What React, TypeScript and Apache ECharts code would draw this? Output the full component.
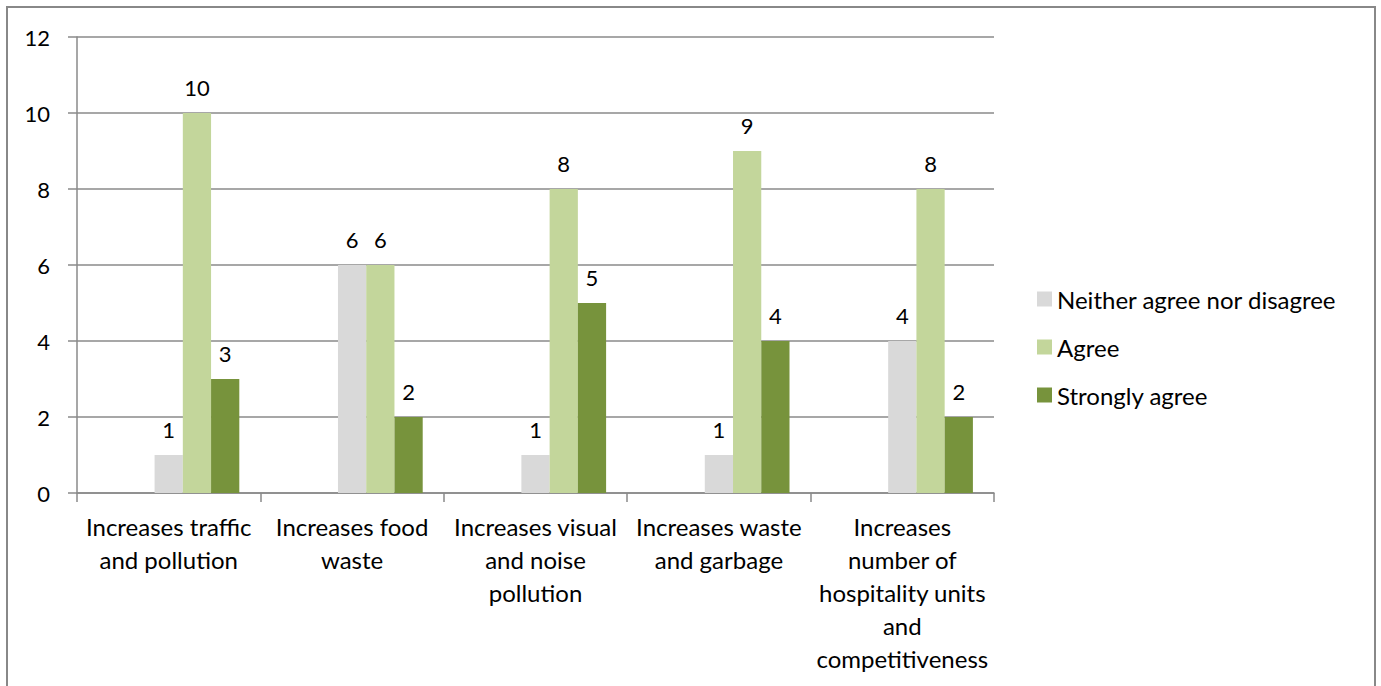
import React, { useEffect, useRef } from "react";
import * as echarts from "echarts";

const categories = [
  "Increases traffic\nand pollution",
  "Increases food\nwaste",
  "Increases visual\nand noise\npollution",
  "Increases waste\nand garbage",
  "Increases\nnumber of\nhospitality units\nand\ncompetitiveness",
];

// Response levels with no answers keep their slots in each group
const stronglyDisagree = [0, 0, 0, 0, 0];
const disagree = [0, 0, 0, 0, 0];
const neither = [1, 6, 1, 1, 4];
const agree = [10, 6, 8, 9, 8];
const stronglyAgree = [3, 2, 5, 4, 2];

const yTicks = { min: 0, max: 12, interval: 2 };

const FONT = "Lato, 'Open Sans', sans-serif";
const GRID_COLOR = "#8a8a8a";
const TEXT_SIZE = 24;
const NUM_SIZE = 22;

export default function App() {
  const ref = useRef<HTMLDivElement>(null);

  useEffect(() => {
    document.body.style.margin = "0";
    const chart = echarts.init(ref.current!, undefined, { renderer: "svg" });

    const label = {
      show: true,
      position: "top",
      distance: 15,
      color: "#000",
      fontFamily: FONT,
      fontSize: NUM_SIZE,
    };

    const shown = (name: string, data: number[], color: string) => ({
      name,
      type: "bar",
      data,
      itemStyle: { color },
      label,
      barGap: "0%",
      barCategoryGap: "23%",
    });

    const blank = (name: string, data: number[]) => ({
      name,
      type: "bar",
      data,
      itemStyle: { color: "transparent" },
      label: { show: false },
      barGap: "0%",
      barCategoryGap: "23%",
    });

    chart.setOption({
      animation: false,
      backgroundColor: "#fff",
      textStyle: { fontFamily: FONT },
      graphic: [
        {
          type: "rect",
          shape: { x: 7, y: 7, width: 1368, height: 700 },
          style: { fill: "none", stroke: "#888", lineWidth: 2 },
          silent: true,
        },
      ],
      grid: { left: 77, right: 387, top: 37, bottom: 193 },
      legend: {
        data: ["Neither agree nor disagree", "Agree", "Strongly agree"],
        orient: "vertical",
        left: 1032,
        top: 282,
        padding: 5,
        itemWidth: 15,
        itemHeight: 15,
        itemGap: 24,
        itemTextGap: 7,
        icon: "rect",
        textStyle: { fontFamily: FONT, fontSize: TEXT_SIZE, lineHeight: 24, color: "#000" },
      },
      xAxis: {
        type: "category",
        data: categories,
        axisLine: { show: true, lineStyle: { color: GRID_COLOR, width: 1.5 } },
        axisTick: { show: true, length: 9, alignWithLabel: false, lineStyle: { color: GRID_COLOR, width: 1.5 } },
        axisLabel: {
          interval: 0,
          color: "#000",
          fontFamily: FONT,
          fontSize: TEXT_SIZE,
          lineHeight: 33,
          margin: 17,
          align: "center",
        },
      },
      yAxis: {
        type: "value",
        min: yTicks.min,
        max: yTicks.max,
        interval: yTicks.interval,
        axisLine: { show: true, lineStyle: { color: GRID_COLOR, width: 1.5 } },
        axisTick: { show: true, length: 9, lineStyle: { color: GRID_COLOR, width: 1.5 } },
        splitLine: { show: true, lineStyle: { color: GRID_COLOR, width: 1.5 } },
        axisLabel: { color: "#000", fontFamily: FONT, fontSize: NUM_SIZE, margin: 27 },
      },
      series: [
        blank("Strongly disagree", stronglyDisagree),
        blank("Disagree", disagree),
        shown("Neither agree nor disagree", neither, "#D9D9D9"),
        shown("Agree", agree, "#C3D69B"),
        shown("Strongly agree", stronglyAgree, "#77933C"),
      ],
    });

    return () => chart.dispose();
  }, []);

  return <div ref={ref} style={{ width: 1381, height: 686 }} />;
}
